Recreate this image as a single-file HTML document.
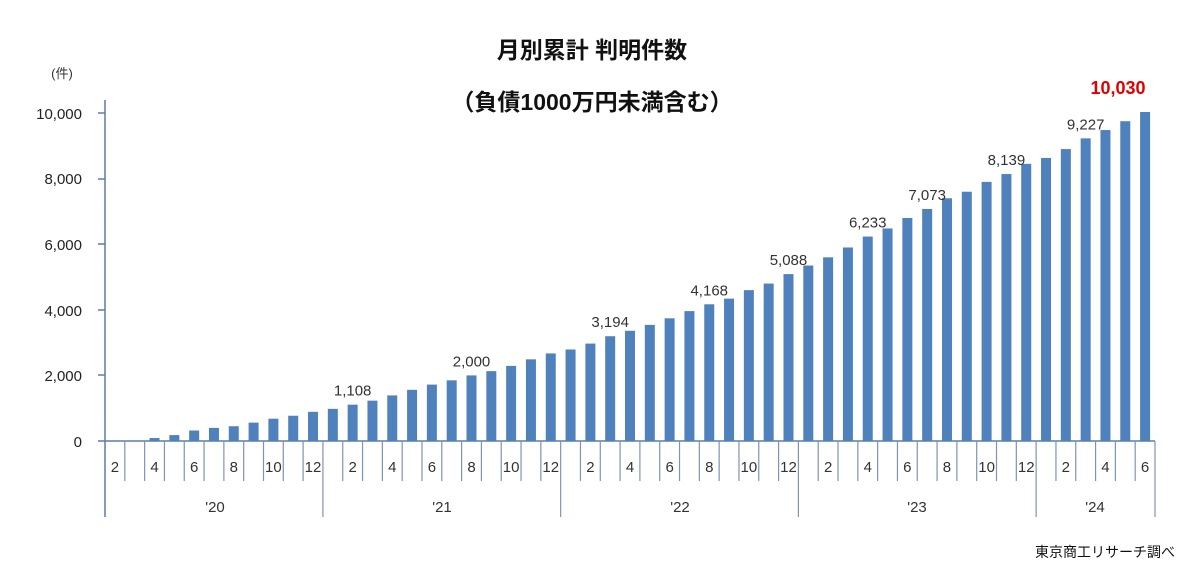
<!DOCTYPE html>
<html><head><meta charset="utf-8"><style>
body{margin:0;background:#fff;width:1200px;height:578px;overflow:hidden}
text{font-family:"Liberation Sans","Noto Sans CJK JP",sans-serif}
</style></head><body>
<svg width="1200" height="578" xmlns="http://www.w3.org/2000/svg">
<text x="592" y="58" text-anchor="middle" font-size="23" font-weight="bold" fill="#111">月別累計 判明件数</text>
<text x="592" y="110" text-anchor="middle" font-size="23" font-weight="bold" fill="#111">（負債1000万円未満含む）</text>
<text x="62" y="78" text-anchor="middle" font-size="13" fill="#333">(件)</text>
<g font-size="15" fill="#222" text-anchor="end">
<text x="82" y="119">10,000</text><text x="82" y="184">8,000</text><text x="82" y="250">6,000</text>
<text x="82" y="316">4,000</text><text x="82" y="381">2,000</text><text x="82" y="447">0</text>
</g>
<g stroke="#5b7cab" stroke-width="1.5">
<line x1="105" y1="100" x2="105" y2="517"/>
<line x1="98" y1="113" x2="105" y2="113"/><line x1="98" y1="179" x2="105" y2="179"/>
<line x1="98" y1="244" x2="105" y2="244"/><line x1="98" y1="310" x2="105" y2="310"/>
<line x1="98" y1="375" x2="105" y2="375"/><line x1="98" y1="441" x2="1155" y2="441"/>
</g>
<g id="bars" fill="#4f81bd"></g>
<g id="ticks" stroke="#7f93b5" stroke-width="1.2"></g>
<g id="lbl" font-size="15" fill="#333" text-anchor="middle"></g>
<g font-size="15" fill="#333" text-anchor="middle">
<text x="215" y="512">'20</text><text x="442" y="512">'21</text><text x="680" y="512">'22</text>
<text x="917" y="512">'23</text><text x="1095" y="512">'24</text>
</g>
<text x="1118" y="94" text-anchor="middle" font-size="18" font-weight="bold" fill="#e00000">10,030</text>
<text x="1175" y="557" text-anchor="end" font-size="14" fill="#111">東京商工リサーチ調べ</text>
<script>
var v=[0,0,90,180,320,400,450,560,680,770,890,980,1108,1230,1390,1560,1720,1850,2000,2130,2290,2490,2670,2790,2970,3194,3360,3540,3740,3960,4168,4340,4600,4800,5088,5350,5600,5900,6233,6480,6800,7073,7400,7600,7900,8139,8450,8630,8900,9227,9480,9750,10030];
var lab={12:"1,108",18:"2,000",25:"3,194",30:"4,168",34:"5,088",38:"6,233",41:"7,073",45:"8,139",49:"9,227"};
var W=1050/53,ns="http://www.w3.org/2000/svg";
function el(t,a,p,txt){var e=document.createElementNS(ns,t);for(var k in a)e.setAttribute(k,a[k]);if(txt)e.textContent=txt;document.getElementById(p).appendChild(e);}
var mon=[2,3,4,5,6,7,8,9,10,11,12];for(var y=0;y<3;y++)for(var m=1;m<=12;m++)mon.push(m);for(m=1;m<=6;m++)mon.push(m);
var yb=[0,11,23,35,47,53];
for(var i=0;i<53;i++){var c=105+(i+0.5)*W,h=v[i]*0.0328;
if(h>0)el("rect",{x:c-5,y:441-h,width:10,height:h},"bars");
if(lab[i])el("text",{x:c,y:441-h-9},"lbl",lab[i]);
if(mon[i]%2==0)el("text",{x:c,y:472},"lbl",String(mon[i]));}
for(i=1;i<=53;i++){var x=105+i*W;var big=yb.indexOf(i)>=0;el("line",{x1:x,y1:441,x2:x,y2:big?517:481},"ticks");}
</script>
</svg>
</body></html>
